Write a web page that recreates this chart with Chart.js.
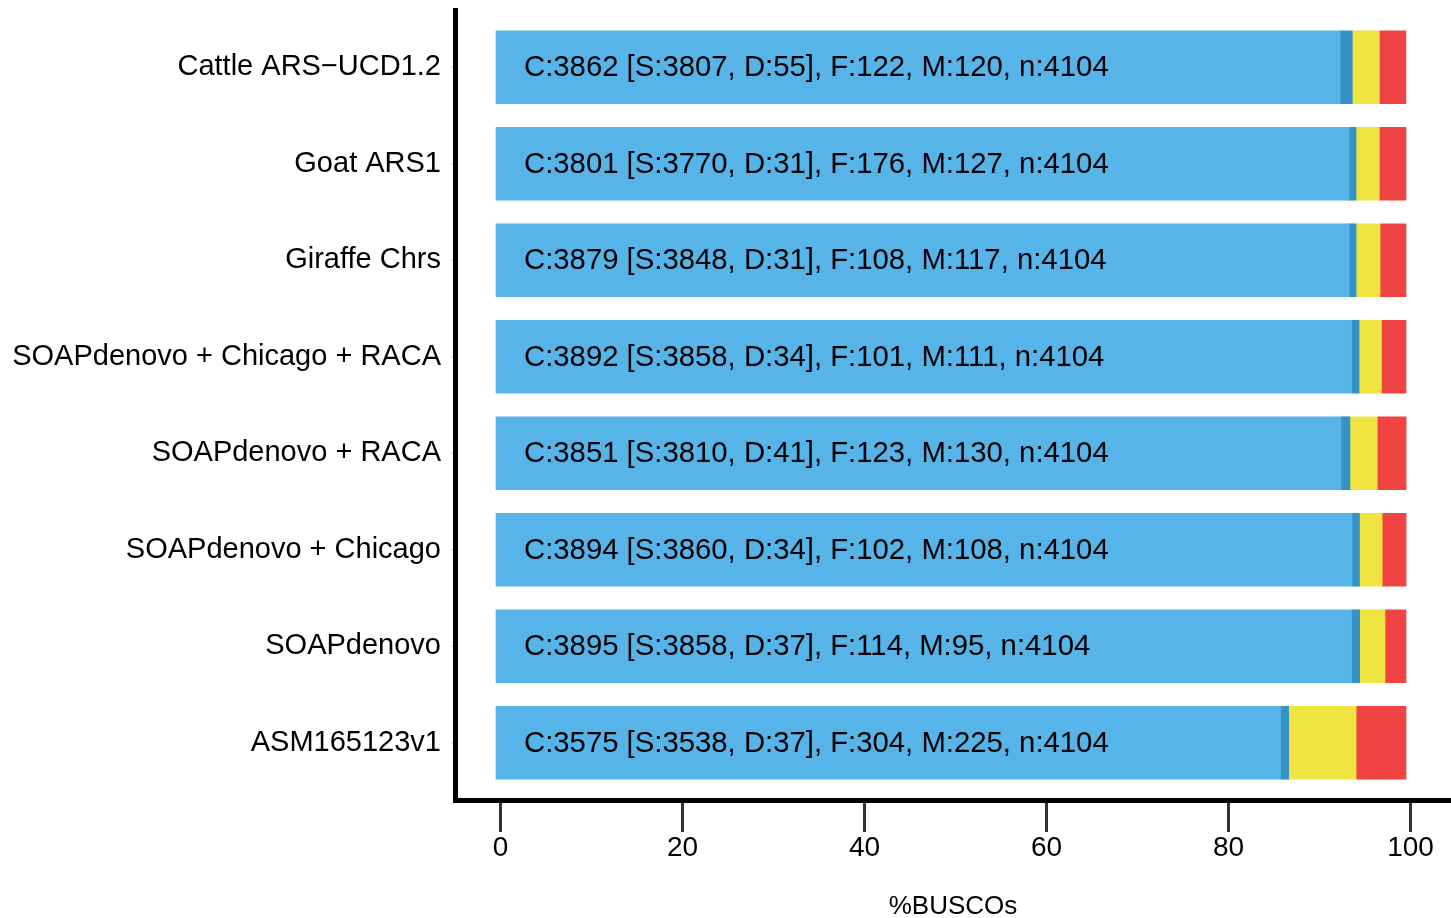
<!DOCTYPE html>
<html>
<head>
<meta charset="utf-8">
<script src="https://cdn.jsdelivr.net/npm/chart.js@4"></script>
<style>
  html, body { margin: 0; padding: 0; background: #ffffff; }
  #wrap { width: 1451px; height: 918px; }
</style>
</head>
<body>
<div id="wrap"><canvas id="c" width="1451" height="918"></canvas></div>
<script>
const categories = [
  'Cattle ARS\u2212UCD1.2',
  'Goat ARS1',
  'Giraffe Chrs',
  'SOAPdenovo + Chicago + RACA',
  'SOAPdenovo + RACA',
  'SOAPdenovo + Chicago',
  'SOAPdenovo',
  'ASM165123v1'
];
// counts printed inside the bars
const labelSingle     = [3807, 3770, 3848, 3858, 3810, 3860, 3858, 3538];
const labelDuplicated = [55, 31, 31, 34, 41, 34, 37, 37];
const labelFragmented = [122, 176, 108, 101, 123, 102, 114, 304];
const labelMissing    = [120, 127, 117, 111, 130, 108, 95, 225];
const labelTotal      = [4104, 4104, 4104, 4104, 4104, 4104, 4104, 4104];
// bar segment lengths (% of BUSCOs) as drawn in the picture
const barSingle     = [92.76, 93.75, 93.76, 94.01, 92.84, 94.06, 94.01, 86.21];
const barDuplicated = [1.34, 0.76, 0.76, 0.83, 1.00, 0.83, 0.90, 0.90];
const barFragmented = [2.97, 2.55, 2.63, 2.46, 3.00, 2.49, 2.78, 7.41];
const barMissing    = [2.92, 2.94, 2.85, 2.70, 3.17, 2.63, 2.31, 5.48];
const xTickValues = [0, 20, 40, 60, 80, 100];

const FONT = '"Liberation Sans", Arial, Helvetica, sans-serif';
const barLabels = categories.map((c, i) =>
  `C:${labelSingle[i] + labelDuplicated[i]} [S:${labelSingle[i]}, D:${labelDuplicated[i]}], F:${labelFragmented[i]}, M:${labelMissing[i]}, n:${labelTotal[i]}`);

const overlay = {
  id: 'overlay',
  afterDatasetsDraw(chart) {
    const ctx = chart.ctx;
    const xs = chart.scales.x;
    const meta = chart.getDatasetMeta(0);
    ctx.save();
    ctx.fillStyle = '#000000';
    ctx.font = '29.3px ' + FONT;
    ctx.textBaseline = 'middle';
    ctx.textAlign = 'left';
    const x0 = xs.getPixelForValue(0) + 28;
    meta.data.forEach((bar, i) => {
      ctx.fillText(barLabels[i], x0, bar.y + 1);
    });
    ctx.restore();
  },
  afterDraw(chart) {
    const ctx = chart.ctx;
    const xs = chart.scales.x;
    const ys = chart.scales.y;
    ctx.save();
    ctx.strokeStyle = '#cccccc';
    ctx.lineWidth = 1;
    categories.forEach((c, i) => {
      const y = ys.getPixelForValue(i);
      ctx.beginPath();
      ctx.moveTo(451, y);
      ctx.lineTo(455, y);
      ctx.stroke();
    });
    ctx.strokeStyle = '#000000';
    ctx.lineWidth = 5;
    ctx.lineCap = 'butt';
    ctx.beginPath();
    ctx.moveTo(455.5, 8);
    ctx.lineTo(455.5, 803);
    ctx.stroke();
    ctx.beginPath();
    ctx.moveTo(453, 800.5);
    ctx.lineTo(1451, 800.5);
    ctx.stroke();
    ctx.strokeStyle = '#333333';
    ctx.lineWidth = 3;
    ctx.fillStyle = '#000000';
    ctx.font = '28px ' + FONT;
    ctx.textAlign = 'center';
    ctx.textBaseline = 'middle';
    xs.ticks.forEach(t => {
      const px = xs.getPixelForValue(t.value) + 4.5;
      ctx.beginPath();
      ctx.moveTo(px, 803);
      ctx.lineTo(px, 832);
      ctx.stroke();
      ctx.fillText(String(t.value), px, 848);
    });
    ctx.restore();
  }
};

new Chart(document.getElementById('c'), {
  type: 'bar',
  data: {
    labels: categories,
    datasets: [
      { label: 'S', data: barSingle,     backgroundColor: '#56B4E9' },
      { label: 'D', data: barDuplicated, backgroundColor: '#3492C7' },
      { label: 'F', data: barFragmented, backgroundColor: '#F0E442' },
      { label: 'M', data: barMissing,    backgroundColor: '#F04442' }
    ]
  },
  options: {
    indexAxis: 'y',
    responsive: false,
    animation: false,
    devicePixelRatio: 1,
    layout: { padding: { top: 19, right: 0, left: 0, bottom: 0 } },
    datasets: { bar: { barThickness: 73, borderWidth: 0, borderSkipped: false } },
    plugins: { legend: { display: false }, tooltip: { enabled: false } },
    scales: {
      x: {
        stacked: true,
        min: -4.505,
        max: 104.945,
        afterBuildTicks(s) { s.ticks = xTickValues.map(v => ({ value: v })); },
        afterFit(s) { s.height = 127; s.paddingLeft = 0; s.paddingRight = 0; },
        border: { display: false },
        grid: { display: false, drawTicks: false },
        ticks: { display: false },
        title: { display: true, text: '%BUSCOs', color: '#000000', font: { family: FONT, size: 26 }, padding: { top: 0, bottom: -4 } }
      },
      y: {
        stacked: true,
        afterFit(s) { s.width = 455; s.paddingTop = 0; s.paddingBottom = 0; },
        border: { display: false },
        grid: { display: false, drawTicks: false },
        ticks: { color: '#000000', font: { family: FONT, size: 29 }, padding: 14, autoSkip: false }
      }
    }
  },
  plugins: [overlay]
});
</script>
</body>
</html>
